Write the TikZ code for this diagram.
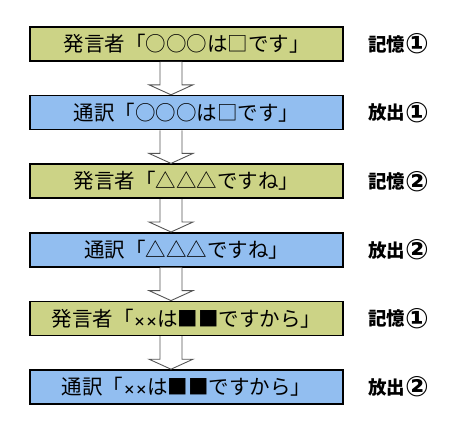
\documentclass[tikz,border=0pt]{standalone}
\usepackage{fontspec}
\setmainfont{Noto Sans CJK JP}
\newfontfamily\circfont{DejaVu Sans}
\usetikzlibrary{positioning, calc}

\definecolor{speakergreen}{RGB}{204,211,134}
\definecolor{interpblue}{RGB}{146,190,240}
\definecolor{arrowgray}{RGB}{85,85,85}

% circled step number
\newcommand{\stepno}[1]{\raisebox{-2.5pt}{\circfont\fontsize{28}{28}\selectfont #1}}

% hollow block arrow from the bottom of one box to the top of the next
\newcommand{\flowarrow}[2]{%
  \draw[flow] let \p1 = ($(#1.south)+(-15.5pt,0)$), \p2 = (#2.north) in
    (\x1-11pt,\y1) -- (\x1-11pt,\y2+10pt) -- (\x1-22pt,\y2+10pt)
    -- (\x1,\y2) -- (\x1+22pt,\y2+10pt) -- (\x1+11pt,\y2+10pt)
    -- (\x1+11pt,\y1);}

\begin{document}
\begin{tikzpicture}[x=1pt, y=-1pt,
    speaker/.style={draw=black, line width=1.6pt, fill=speakergreen,
      minimum width=313pt, minimum height=34pt, inner sep=0pt,
      font=\fontsize{20.5}{20.5}\selectfont},
    interp/.style={speaker, fill=interpblue},
    tag/.style={anchor=west, inner xsep=1pt,
      font=\fontsize{18.5}{18.5}\selectfont\bfseries},
    flow/.style={draw=arrowgray, line width=0.9pt, fill=white}]
  \useasboundingbox (0,0) rectangle (450,429);

  % Boxes
  \node[speaker] (s1) at (186.5,44) {発言者「○○○は□です」};
  \node[interp, below=33pt of s1] (t1) {通訳「○○○は□です」};
  \node[speaker, below=33pt of t1] (s2) {発言者「△△△ですね」};
  \node[interp, below=33pt of s2] (t2) {通訳「△△△ですね」};
  \node[speaker, below=33pt of t2] (s3)
    {発言者「{\fontsize{12}{12}\selectfont\bfseries ××}は■■ですから」};
  \node[interp, below=33pt of s3] (t3)
    {通訳「{\fontsize{12}{12}\selectfont\bfseries ××}は■■ですから」};

  % Side tags
  \node[tag, right=23pt of s1] (m1) {記憶\stepno{①}};
  \node[tag, right=23pt of t1] (r1) {放出\stepno{①}};
  \node[tag, right=23pt of s2] (m2) {記憶\stepno{②}};
  \node[tag, right=23pt of t2] (r2) {放出\stepno{②}};
  \node[tag, right=23pt of s3] (m3) {記憶\stepno{①}};
  \node[tag, right=23pt of t3] (r3) {放出\stepno{②}};

  % Arrows
  \flowarrow{s1}{t1}
  \flowarrow{t1}{s2}
  \flowarrow{s2}{t2}
  \flowarrow{t2}{s3}
  \flowarrow{s3}{t3}
\end{tikzpicture}
\end{document}
